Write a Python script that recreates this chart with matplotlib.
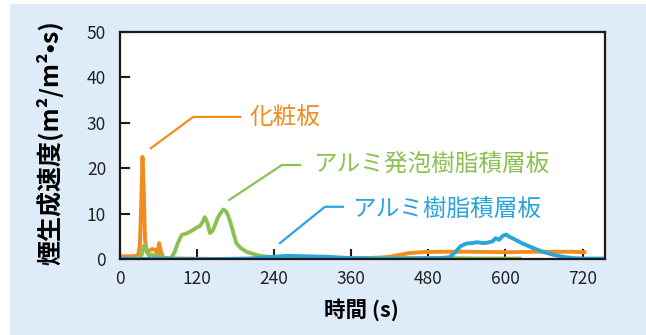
import matplotlib
matplotlib.use("Agg")
import matplotlib.pyplot as plt
from matplotlib.patches import Rectangle

plt.rcParams['font.family'] = ['Noto Sans CJK JP', 'DejaVu Sans']

# 化粧板
t_kesho = [0, 10, 20, 28, 31, 33, 35, 37, 39, 42, 45, 50, 55, 58, 61, 64, 67, 72, 80,
           100, 150, 200, 250, 300, 350, 400, 420, 435, 450, 470, 500, 550, 600, 650, 700, 723]
v_kesho = [0.6, 0.6, 0.6, 0.8, 3.0, 12.0, 22.5, 15.0, 4.0, 1.5, 1.8, 2.2, 2.0, 1.2, 3.5, 1.5, 0.4, 0.2, 0.1,
           0.1, 0.0, 0.0, 0.0, 0.0, 0.1, 0.2, 0.5, 0.9, 1.3, 1.5, 1.6, 1.6, 1.5, 1.6, 1.6, 1.5]

# アルミ発泡樹脂積層板
t_foam = [0, 20, 30, 34, 37, 39, 42, 45, 50, 55, 60, 65, 70, 75, 80, 85, 90, 96, 103, 109,
          115, 120, 124, 128, 132, 136, 140, 144, 148, 152, 156, 161, 165, 168, 172, 176,
          181, 188, 197, 210, 218, 230, 250, 280, 320, 360, 400, 440, 480, 520, 560, 600, 622]
v_foam = [0.1, 0.1, 0.3, 1.0, 2.8, 3.0, 1.5, 0.8, 1.0, 0.6, 1.0, 0.3, 0.0, 0.0, 0.3, 1.5, 3.5, 5.3, 5.6, 6.0,
          6.5, 7.0, 7.2, 8.0, 9.2, 8.0, 5.7, 6.2, 7.5, 9.0, 10.0, 10.9, 10.5, 9.7, 8.0, 6.0,
          3.5, 2.4, 1.6, 1.0, 0.7, 0.5, 0.3, 0.2, 0.1, 0.1, 0.3, 0.2, 0.2, 0.2, 0.1, 0.1, 0.1]

# アルミ樹脂積層板
t_resin = [0, 30, 60, 100, 150, 200, 230, 260, 290, 320, 360, 400, 450, 500, 513, 522, 530, 539,
           548, 556, 565, 572, 580, 585, 590, 596, 601, 606, 612, 620, 627, 640, 658, 675, 689,
           705, 720, 740, 755]
v_resin = [0.1, 0.0, 0.1, 0.0, 0.0, 0.1, 0.4, 0.7, 0.6, 0.5, 0.2, 0.1, 0.1, 0.2, 0.4, 1.5, 2.8, 3.4,
           3.5, 3.7, 3.5, 3.6, 3.9, 4.6, 4.2, 5.1, 5.4, 4.9, 4.5, 3.9, 3.4, 2.6, 1.6, 0.9, 0.5,
           0.2, 0.1, 0.1, 0.1]

x_ticks = [0, 120, 240, 360, 480, 600, 720]
y_ticks = [0, 10, 20, 30, 40, 50]

c_orange = '#F18D1F'
c_green = '#8CC152'
c_blue = '#2AA5DC'
c_axis = '#231815'

fig = plt.figure(figsize=(6.46, 3.35), dpi=100)
fig.patch.set_facecolor('white')
fig.patches.append(Rectangle((10 / 646, 0), 1, 1 - 4 / 335, transform=fig.transFigure,
                             facecolor='#DEEBF8', edgecolor='none', zorder=-1))

ax = fig.add_axes([120 / 646, 1 - 259 / 335, 485 / 646, 227 / 335])
ax.set_facecolor('white')

ax.plot(t_kesho, v_kesho, color=c_orange, lw=2.8, solid_joinstyle='round')
ax.plot(t_foam, v_foam, color=c_green, lw=2.8, solid_joinstyle='round')
ax.plot(t_resin, v_resin, color=c_blue, lw=2.8, solid_joinstyle='round')

ax.set_xlim(0, 755)
ax.set_ylim(0, 50)
ax.set_xticks(x_ticks)
ax.set_yticks(y_ticks)
ax.tick_params(direction='in', length=7, width=1.5, color=c_axis, labelsize=12.5,
               labelcolor='#222222')
ax.tick_params(axis='x', pad=8)
ax.tick_params(axis='y', pad=10)
for s in ax.spines.values():
    s.set_linewidth(1.6)
    s.set_color(c_axis)

# leader lines and series names
leaders = [
    ([48, 114, 187], [24.4, 31.3, 31.3], 202, 31.1, '化粧板', c_orange),
    ([170, 252, 280], [13.0, 20.7, 20.7], 301, 20.9, 'アルミ発泡樹脂積層板', c_green),
    ([249, 319, 347], [3.5, 11.5, 11.5], 361, 10.9, 'アルミ樹脂積層板', c_blue),
]
for xs, ys, tx, ty, name, col in leaders:
    ax.plot(xs, ys, color=col, lw=1.6, clip_on=False)
    ax.text(tx, ty, name, color=col, fontsize=17, ha='left', va='center')

fig.text(361 / 646, 1 - 310 / 335, '時間 (s)', fontsize=15.5, fontweight='bold',
         ha='center', va='center')
fig.text(50 / 646, 1 - 143 / 335, '煙生成速度(m²/m²•s)', fontsize=18, fontweight='bold',
         rotation=90, ha='center', va='center')

fig.savefig('out.png', dpi=100)
